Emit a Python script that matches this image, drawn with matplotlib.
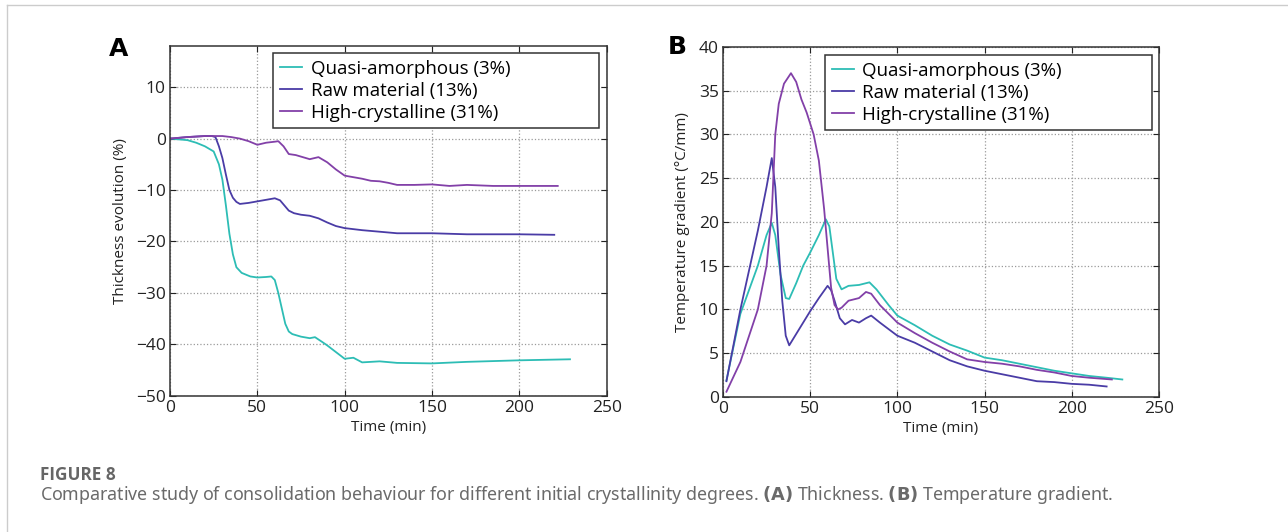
import numpy as np
import matplotlib.pyplot as plt
from matplotlib.lines import Line2D

plt.rcParams['font.family'] = ['Open Sans', 'DejaVu Sans']

# ---- data ----
labels = ['Quasi-amorphous (3%)', 'Raw material (13%)', 'High-crystalline (31%)']
colors = ['#2dbdb5', '#4a3ca6', '#8240a8']

# Panel A: thickness evolution (%)
t_qa_a = [0, 10, 15, 20, 25, 28, 30, 32, 34, 36, 38, 41, 46, 50, 55, 58, 60, 62, 64, 66, 68,
          70, 75, 80, 83, 87, 90, 95, 100, 105, 110, 120, 130, 150, 170, 200, 229]
y_qa_a = [0, -0.3, -0.8, -1.5, -2.5, -5, -8, -13, -18.5, -22.5, -25, -26.1, -26.8, -27, -26.9,
          -26.8, -27.5, -30, -33, -36, -37.5, -38, -38.5, -38.8, -38.6, -39.5, -40.2, -41.5,
          -42.8, -42.6, -43.5, -43.3, -43.6, -43.7, -43.4, -43.1, -42.9]

t_raw_a = [0, 10, 20, 24, 26, 28, 30, 32, 34, 36, 38, 40, 45, 50, 55, 60, 63, 65, 68, 71,
           75, 80, 85, 90, 95, 100, 110, 120, 130, 150, 170, 200, 220]
y_raw_a = [0, 0.3, 0.5, 0.5, 0.3, -1.5, -3.8, -7, -10, -11.5, -12.3, -12.7, -12.5, -12.2,
           -11.9, -11.6, -12, -12.8, -14, -14.5, -14.8, -15, -15.5, -16.3, -17, -17.4,
           -17.8, -18.1, -18.4, -18.4, -18.6, -18.6, -18.7]

t_hc_a = [0, 10, 20, 30, 35, 40, 45, 50, 55, 60, 62, 65, 68, 72, 76, 80, 85, 90, 95, 100,
          105, 110, 115, 120, 125, 130, 140, 150, 160, 170, 185, 200, 222]
y_hc_a = [0, 0.3, 0.5, 0.5, 0.3, 0, -0.5, -1.2, -0.8, -0.6, -0.5, -1.5, -3, -3.2, -3.6,
          -4, -3.6, -4.6, -6, -7.2, -7.5, -7.8, -8.2, -8.3, -8.6, -9, -9, -8.9, -9.2, -9,
          -9.2, -9.2, -9.2]

# Panel B: temperature gradient (degC/mm)
t_qa_b = [2, 10, 20, 25, 28, 30, 33, 36, 38, 42, 46, 50, 55, 59, 61, 63, 65, 68, 72, 78,
          84, 88, 95, 100, 110, 120, 130, 140, 150, 160, 170, 180, 190, 200, 210, 220, 229]
y_qa_b = [1.9, 9.5, 15, 18.5, 19.9, 18.5, 14, 11.3, 11.2, 13, 15, 16.5, 18.5, 20.3, 19.5,
          16.5, 13.5, 12.3, 12.7, 12.8, 13.1, 12.3, 10.5, 9.3, 8.2, 7.0, 6.0, 5.3, 4.5, 4.2,
          3.8, 3.4, 3.0, 2.7, 2.4, 2.2, 2.0]

t_raw_b = [2, 10, 20, 25, 28, 30, 32, 34, 36, 38, 42, 46, 50, 55, 60, 62, 64, 67, 70, 74,
           78, 82, 85, 90, 100, 110, 120, 130, 140, 150, 160, 170, 180, 190, 200, 210, 220]
y_raw_b = [1.8, 10, 19, 24, 27.3, 24, 17, 11, 7, 5.9, 7.2, 8.5, 9.8, 11.3, 12.7, 12.2, 11,
           9.0, 8.3, 8.8, 8.5, 9.0, 9.3, 8.5, 7.0, 6.2, 5.2, 4.2, 3.5, 3.0, 2.6, 2.2, 1.8,
           1.7, 1.5, 1.4, 1.2]

t_hc_b = [2, 10, 20, 25, 28, 30, 32, 35, 39, 42, 45, 48, 52, 55, 58, 60, 62, 64, 66, 68,
          72, 78, 82, 85, 90, 100, 110, 120, 130, 140, 150, 160, 170, 180, 190, 200, 210, 223]
y_hc_b = [0.6, 4, 10, 15, 21, 30, 33.5, 35.8, 37, 36, 34, 32.5, 30, 27, 21.5, 17, 12.5, 10.5,
          10, 10.2, 11, 11.3, 12, 11.8, 10.5, 8.5, 7.3, 6.2, 5.2, 4.3, 4.0, 3.8, 3.5, 3.1,
          2.8, 2.4, 2.2, 2.0]

series_a = [(t_qa_a, y_qa_a), (t_raw_a, y_raw_a), (t_hc_a, y_hc_a)]
series_b = [(t_qa_b, y_qa_b), (t_raw_b, y_raw_b), (t_hc_b, y_hc_b)]

text_col = '#222222'
W, H = 1288, 532


def style_axes(ax):
    ax.set_xlim(0, 250)
    ax.grid(True, color='#9a9a9a', linestyle=':', linewidth=0.9)
    ax.tick_params(direction='in', top=True, right=True, length=4, pad=3,
                   labelsize=12.5, colors=text_col)
    for sp in ax.spines.values():
        sp.set_color('#333333')
        sp.set_linewidth(1.1)
    ax.set_xlabel('Time (min)', fontsize=11, color=text_col, labelpad=3)


def add_legend(ax, x0, x1, top):
    leg = ax.legend(loc='upper left', bbox_to_anchor=(x0, top, x1 - x0, 0.0001),
                    mode='expand', fontsize=13.5, fancybox=False, edgecolor='#333333',
                    framealpha=1, handlelength=1.2, handletextpad=0.45,
                    borderpad=0.35, labelspacing=0.22, borderaxespad=0)
    leg.get_frame().set_linewidth(1.1)


fig = plt.figure(figsize=(W / 100, H / 100), dpi=100)

ax_a = fig.add_axes([0.132, 0.256, 0.339, 0.6575])
for (t, y), c, lab in zip(series_a, colors, labels):
    ax_a.plot(t, y, color=c, lw=1.3, label=lab)
style_axes(ax_a)
ax_a.set_ylim(-50, 18)
ax_a.set_yticks([-50, -40, -30, -20, -10, 0, 10])
ax_a.set_yticklabels(['\u221250', '\u221240', '\u221230', '\u221220', '\u221210', '0', '10'])
ax_a.set_ylabel('Thickness evolution (%)', fontsize=11, color=text_col, labelpad=6)
add_legend(ax_a, 0.236, 0.982, 0.98)

ax_b = fig.add_axes([0.5613, 0.2538, 0.3385, 0.658])
for (t, y), c, lab in zip(series_b, colors, labels):
    ax_b.plot(t, y, color=c, lw=1.3, label=lab)
style_axes(ax_b)
ax_b.set_ylim(0, 40)
ax_b.set_yticks(range(0, 41, 5))
ax_b.set_ylabel('Temperature gradient (\u00b0C/mm)', fontsize=11, color=text_col, labelpad=6)
add_legend(ax_b, 0.234, 0.984, 0.977)

# panel letters
fig.text(119 / W, 1 - 49 / H, 'A', fontsize=18, fontweight='bold',
         family=['DejaVu Sans'], ha='center', va='center')
fig.text(677 / W, 1 - 47 / H, 'B', fontsize=18, fontweight='bold',
         family=['DejaVu Sans'], ha='center', va='center')

# caption
fig.text(40 / W, 1 - 480 / H, 'FIGURE 8', fontsize=12.3, color='#666666',
         fontweight='bold', family=['Open Sans', 'DejaVu Sans'], ha='left', va='baseline')
fig.text(40 / W, 1 - 500 / H,
         'Comparative study of consolidation behaviour for different initial crystallinity degrees. '
         r'$\bf{(A)}$ Thickness. $\bf{(B)}$ Temperature gradient.',
         fontsize=12.8, color='#6a6a6a', family=['Noto Sans'], ha='left', va='baseline')

# page frame lines
fig.add_artist(Line2D([7 / W, 7 / W], [0, 1 - 5 / H], transform=fig.transFigure,
                      color='#cccccc', lw=1))
fig.add_artist(Line2D([7 / W, 1], [1 - 5 / H, 1 - 5 / H], transform=fig.transFigure,
                      color='#cccccc', lw=1))

fig.savefig('out.png', dpi=100)
